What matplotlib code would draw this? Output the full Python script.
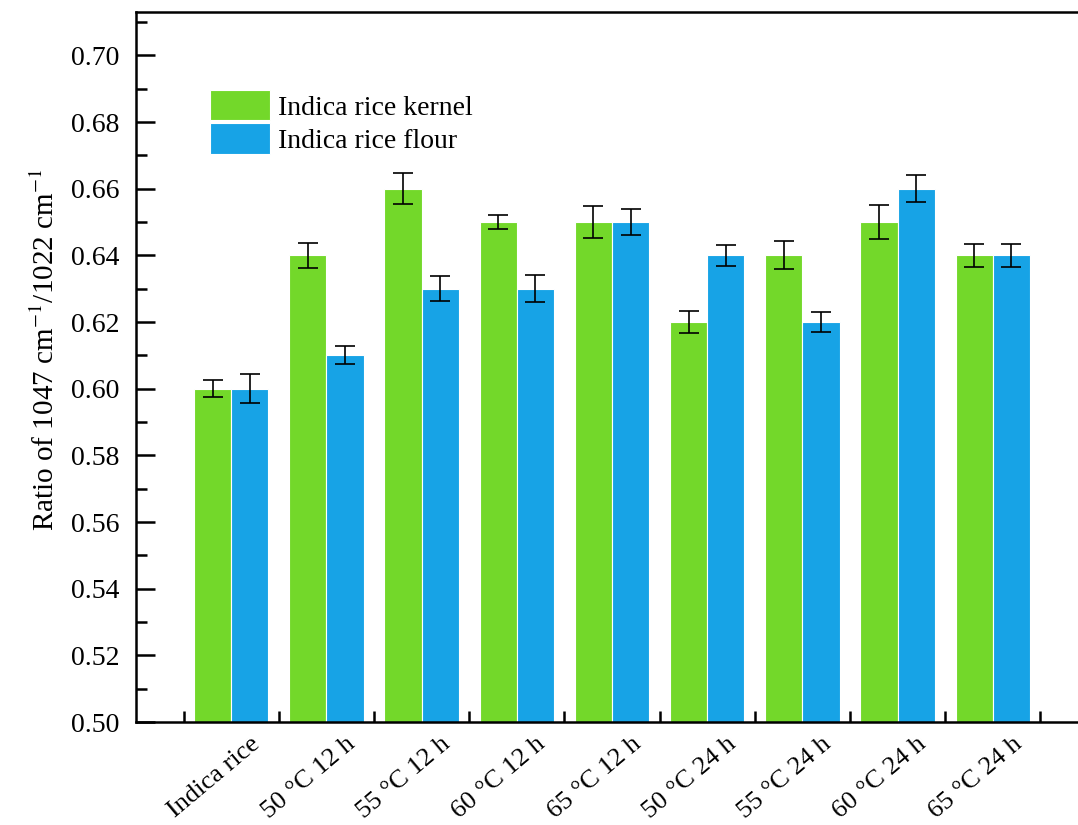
import matplotlib
matplotlib.use("Agg")
import matplotlib.pyplot as plt
import matplotlib.transforms as mtransforms
from matplotlib.ticker import MultipleLocator, FormatStrFormatter
import numpy as np

# Data
groups = ["Indica rice", "50 °C 12 h", "55 °C 12 h", "60 °C 12 h", "65 °C 12 h",
          "50 °C 24 h", "55 °C 24 h", "60 °C 24 h", "65 °C 24 h"]
kernel = [0.60, 0.64, 0.66, 0.65, 0.65, 0.62, 0.64, 0.65, 0.64]
kernel_err = [0.0025, 0.0037, 0.0046, 0.002, 0.0048, 0.0032, 0.0042, 0.005, 0.0034]
flour = [0.60, 0.61, 0.63, 0.63, 0.65, 0.64, 0.62, 0.66, 0.64]
flour_err = [0.0044, 0.0027, 0.0037, 0.004, 0.0038, 0.0032, 0.0031, 0.004, 0.0034]

plt.rcParams["font.family"] = ["Liberation Serif", "DejaVu Serif"]
plt.rcParams["mathtext.fontset"] = "stix"

fig = plt.figure(figsize=(10.78, 8.25), dpi=100)
ax = fig.add_axes([136 / 1078, 103 / 825, 952 / 1078, 710 / 825])

x = np.arange(len(groups))
w = 0.39
ax.bar(x - w / 2, kernel, w, color="#73D82A", edgecolor="white", linewidth=0.8,
       label="Indica rice kernel", zorder=2)
ax.bar(x + w / 2, flour, w, color="#17A3E6", edgecolor="white", linewidth=0.8,
       label="Indica rice flour", zorder=2)
ax.errorbar(x - w / 2, kernel, yerr=kernel_err, fmt="none", ecolor="black",
            elinewidth=1.2, capsize=7, capthick=1.2, zorder=3)
ax.errorbar(x + w / 2, flour, yerr=flour_err, fmt="none", ecolor="black",
            elinewidth=1.2, capsize=7, capthick=1.2, zorder=3)

ax.set_xlim(-1.0, len(groups))
ax.set_ylim(0.50, 0.713)

# y axis ticks
ax.yaxis.set_major_locator(MultipleLocator(0.02))
ax.yaxis.set_minor_locator(MultipleLocator(0.01))
ax.yaxis.set_major_formatter(FormatStrFormatter("%.2f"))
ax.tick_params(axis="y", which="major", direction="in", length=14, width=1.8,
               labelsize=20, pad=12)
ax.tick_params(axis="y", which="minor", direction="in", length=8, width=1.8)

# x axis: ticks at group boundaries, labels at group centres
ax.set_xticks(np.arange(-0.5, len(groups), 1.0))
ax.set_xticklabels([])
ax.set_xticks(x, minor=True)
ax.set_xticklabels(groups, minor=True, rotation=40, ha="right", va="center",
                   rotation_mode="anchor", fontsize=19)
ax.tick_params(axis="x", which="major", direction="in", length=8, width=1.8)
ax.tick_params(axis="x", which="minor", length=0, pad=14)
offset = mtransforms.ScaledTranslation(26 / 100, 0, fig.dpi_scale_trans)
for lab in ax.get_xticklabels(minor=True):
    lab.set_transform(lab.get_transform() + offset)

ax.tick_params(top=False, right=False)
for s in ax.spines.values():
    s.set_linewidth(1.8)
ax.spines["right"].set_visible(False)

ax.set_ylabel("Ratio of 1047 cm$^{-1}$/1022 cm$^{-1}$", fontsize=21)
ax.yaxis.set_label_coords(-0.08, 0.525)

ax.legend(loc="upper left", bbox_to_anchor=(0.078, 0.89), frameon=False,
          fontsize=20, handlelength=2.15, handleheight=1.3, labelspacing=0.1,
          handletextpad=0.3, borderpad=0, borderaxespad=0)

fig.savefig("out.png", dpi=100)
